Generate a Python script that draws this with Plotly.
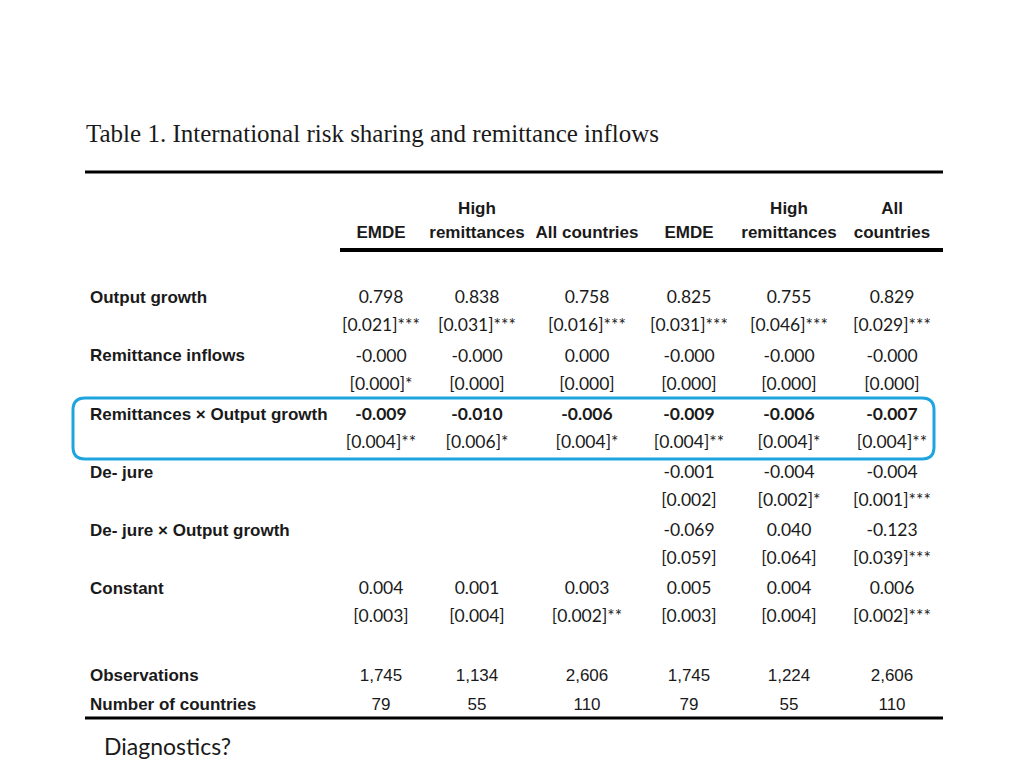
import plotly.graph_objects as go

# ---------------- data ----------------
title_text = "Table 1. International risk sharing and remittance inflows"
col_header_top = ["", "High", "", "", "High", "All"]
col_header_bottom = ["EMDE", "remittances", "All countries", "EMDE", "remittances", "countries"]

variables = ["Output growth", "Remittance inflows", "Remittances \u00d7 Output growth",
             "De- jure", "De- jure \u00d7 Output growth", "Constant"]
coefs = [
    ["0.798", "0.838", "0.758", "0.825", "0.755", "0.829"],
    ["-0.000", "-0.000", "0.000", "-0.000", "-0.000", "-0.000"],
    ["-0.009", "-0.010", "-0.006", "-0.009", "-0.006", "-0.007"],
    ["", "", "", "-0.001", "-0.004", "-0.004"],
    ["", "", "", "-0.069", "0.040", "-0.123"],
    ["0.004", "0.001", "0.003", "0.005", "0.004", "0.006"],
]
ses = [
    ["[0.021]***", "[0.031]***", "[0.016]***", "[0.031]***", "[0.046]***", "[0.029]***"],
    ["[0.000]*", "[0.000]", "[0.000]", "[0.000]", "[0.000]", "[0.000]"],
    ["[0.004]**", "[0.006]*", "[0.004]*", "[0.004]**", "[0.004]*", "[0.004]**"],
    ["", "", "", "[0.002]", "[0.002]*", "[0.001]***"],
    ["", "", "", "[0.059]", "[0.064]", "[0.039]***"],
    ["[0.003]", "[0.004]", "[0.002]**", "[0.003]", "[0.004]", "[0.002]***"],
]
stat_labels = ["Observations", "Number of countries"]
stat_values = [
    ["1,745", "1,134", "2,606", "1,745", "1,224", "2,606"],
    ["79", "55", "110", "79", "55", "110"],
]
footer_text = "Diagnostics?"
highlight_var = "Remittances \u00d7 Output growth"

# ---------------- layout constants (pixel space) ----------------
W, H = 1024, 768
OFF = 8  # default page body margin
col_x = [381, 477, 587, 689, 789, 892]
label_x = 90
row0_y, row_step, se_off = 299, 58.2, 28
stat_y = [677, 706]
hdr_y = [210, 234]

value_font = "Lato, Open Sans, sans-serif"
label_font = "Liberation Sans, Arial, sans-serif"
narrow_font = "Liberation Sans Narrow, Arial Narrow, Liberation Sans, sans-serif"
ink = "#1a1a1a"

fig = go.Figure()

# header
fig.add_trace(go.Scatter(
    x=col_x, y=[hdr_y[0]] * 6, text=col_header_top, mode="text",
    textposition="middle center",
    textfont=dict(family=label_font, size=17, color=ink, weight="bold"),
    hoverinfo="skip", showlegend=False))
fig.add_trace(go.Scatter(
    x=col_x, y=[hdr_y[1]] * 6, text=col_header_bottom, mode="text",
    textposition="middle center",
    textfont=dict(family=label_font, size=17, color=ink, weight="bold"),
    hoverinfo="skip", showlegend=False))

# variable rows
for r, var in enumerate(variables):
    y = row0_y + r * row_step
    bold = var == highlight_var
    fig.add_trace(go.Scatter(
        x=[label_x], y=[y], text=[var], mode="text", textposition="middle right",
        textfont=dict(family=label_font, size=17, color=ink, weight="bold"),
        hoverinfo="skip", showlegend=False))
    fig.add_trace(go.Scatter(
        x=col_x, y=[y] * 6, text=coefs[r], mode="text", textposition="middle center",
        textfont=dict(family=value_font, size=17.5, color=ink,
                      weight="bold" if bold else "normal"),
        hoverinfo="skip", showlegend=False))
    fig.add_trace(go.Scatter(
        x=col_x, y=[y + se_off] * 6, text=ses[r], mode="text", textposition="middle center",
        textfont=dict(family=value_font, size=17.5, color=ink),
        hoverinfo="skip", showlegend=False))

# stats rows
for r, lab in enumerate(stat_labels):
    fig.add_trace(go.Scatter(
        x=[label_x], y=[stat_y[r]], text=[lab], mode="text", textposition="middle right",
        textfont=dict(family=narrow_font, size=17, color=ink, weight="bold"),
        hoverinfo="skip", showlegend=False))
    fig.add_trace(go.Scatter(
        x=col_x, y=[stat_y[r]] * 6, text=stat_values[r], mode="text",
        textposition="middle center",
        textfont=dict(family=narrow_font, size=17, color=ink),
        hoverinfo="skip", showlegend=False))

# title and footer
fig.add_trace(go.Scatter(
    x=[86], y=[136], text=[title_text], mode="text", textposition="middle right",
    textfont=dict(family="Liberation Serif, DejaVu Serif, serif", size=25, color=ink),
    hoverinfo="skip", showlegend=False))
fig.add_trace(go.Scatter(
    x=[104], y=[749], text=[footer_text], mode="text", textposition="middle right",
    textfont=dict(family=value_font, size=23, color=ink),
    hoverinfo="skip", showlegend=False))

# rules
shapes = [
    dict(type="line", x0=85, x1=943, y0=172, y1=172, line=dict(color="#000", width=3)),
    dict(type="line", x0=340, x1=943, y0=250, y1=250, line=dict(color="#000", width=4)),
    dict(type="line", x0=85, x1=943, y0=718, y1=718, line=dict(color="#000", width=3)),
]
# highlight rounded box
x0, x1, y0, y1, rr = 73, 934, 398, 459, 12
path = (f"M {x0+rr},{y0} L {x1-rr},{y0} Q {x1},{y0} {x1},{y0+rr} "
        f"L {x1},{y1-rr} Q {x1},{y1} {x1-rr},{y1} L {x0+rr},{y1} "
        f"Q {x0},{y1} {x0},{y1-rr} L {x0},{y0+rr} Q {x0},{y0} {x0+rr},{y0} Z")
shapes.append(dict(type="path", path=path, line=dict(color="#1ea5e0", width=3),
                   fillcolor="rgba(0,0,0,0)"))

fig.update_layout(
    width=W, height=H, margin=dict(l=0, r=0, t=0, b=0),
    paper_bgcolor="white", plot_bgcolor="white",
    xaxis=dict(range=[OFF, W + OFF], visible=False, fixedrange=True),
    yaxis=dict(range=[H + OFF, OFF], visible=False, fixedrange=True),
    shapes=shapes, showlegend=False,
)

fig.write_html("out.html")
